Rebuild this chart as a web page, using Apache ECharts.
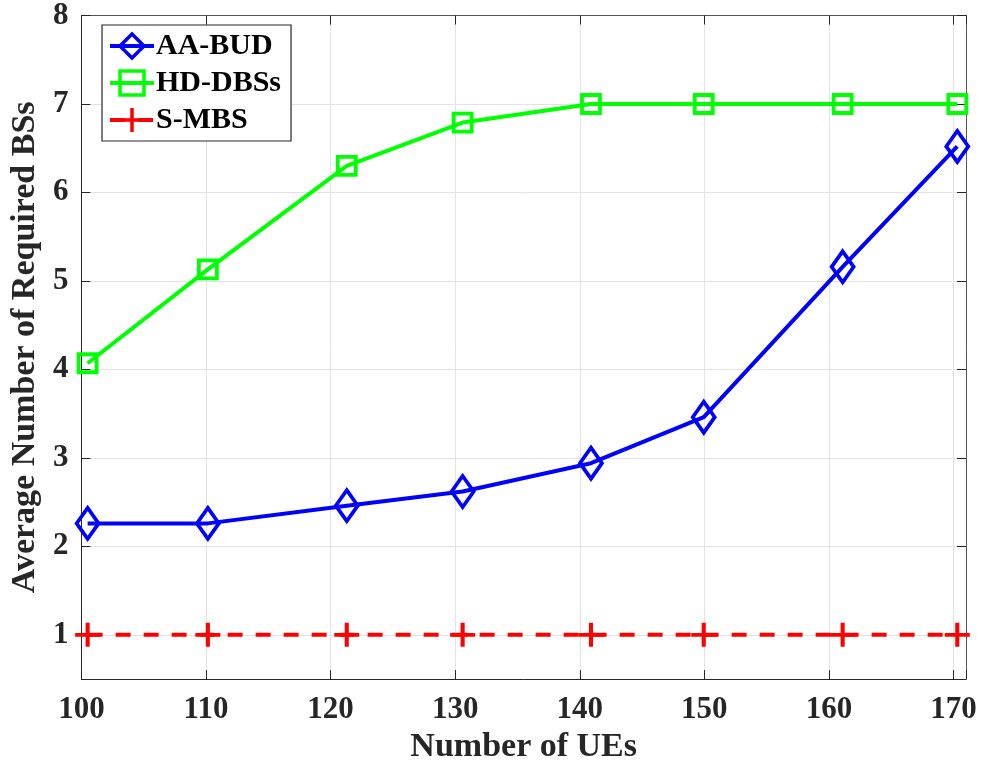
<!DOCTYPE html>
<html>
<head>
<meta charset="utf-8">
<script src="https://cdn.jsdelivr.net/npm/echarts@6/dist/echarts.min.js"></script>
<style>
html,body{margin:0;padding:0;background:#fff;}
#chart{width:982px;height:769px;}
</style>
</head>
<body>
<div id="chart"></div>
<script>
// ---- data ----
const ues = [100.5, 110.15, 121.3, 130.6, 140.9, 149.95, 161.1, 170.3];
const aaBud = [2.26, 2.26, 2.46, 2.62, 2.94, 3.46, 5.16, 6.52];
const hdDbss = [4.07, 5.13, 6.30, 6.79, 7.0, 7.0, 7.0, 7.0];
const sMbs = [1, 1, 1, 1, 1, 1, 1, 1];
const seriesNames = ['AA-BUD', 'HD-DBSs', 'S-MBS'];
const xTitle = 'Number of UEs';
const yTitle = 'Average Number of Required BSs';

const FONT = "'Liberation Serif', 'Times New Roman', serif";
const AXIS = '#262626';
const GRID = '#e3e3e3';

const pairs = (ys) => ues.map((x, i) => [x, ys[i]]);

const mainX = {
  type: 'value', min: 100, max: 171, interval: 10,
  axisLine: { show: true, onZero: false, lineStyle: { color: AXIS, width: 1 } },
  axisTick: { show: true, inside: true, length: 9, lineStyle: { color: AXIS } },
  axisLabel: {
    margin: 15, color: AXIS, fontFamily: FONT, fontWeight: 'bold', fontSize: 31,
    formatter: v => (Math.abs(v % 10) < 1e-9 ? String(v) : '')
  },
  splitLine: { show: true, lineStyle: { color: GRID, width: 1 } },
  name: xTitle, nameLocation: 'middle', nameGap: 37,
  nameTextStyle: { color: AXIS, fontFamily: FONT, fontWeight: 'bold', fontSize: 34 }
};
const topX = {
  type: 'value', min: 100, max: 171, interval: 10, position: 'top',
  axisLine: { show: true, onZero: false, lineStyle: { color: '#555', width: 1 } },
  axisTick: { show: true, inside: true, length: 9, lineStyle: { color: AXIS } },
  axisLabel: { show: false }, splitLine: { show: false }
};
const mainY = {
  type: 'value', min: 0.5, max: 8, splitNumber: 8,
  axisLine: { show: true, onZero: false, lineStyle: { color: AXIS, width: 1 } },
  axisTick: { show: true, inside: true, length: 9, lineStyle: { color: AXIS } },
  axisLabel: {
    margin: 13, color: AXIS, fontFamily: FONT, fontWeight: 'bold', fontSize: 31,
    formatter: v => (Number.isInteger(v) ? String(v) : '')
  },
  splitLine: { show: true, lineStyle: { color: GRID, width: 1 } },
  name: yTitle, nameLocation: 'middle', nameGap: 31,
  nameTextStyle: { color: AXIS, fontFamily: FONT, fontWeight: 'bold', fontSize: 34 }
};
const rightY = {
  type: 'value', min: 0.5, max: 8, splitNumber: 8, position: 'right',
  axisLine: { show: true, onZero: false, lineStyle: { color: '#555', width: 1 } },
  axisTick: { show: true, inside: true, length: 9, lineStyle: { color: AXIS } },
  axisLabel: { show: false }, splitLine: { show: false }
};

const crossPath = 'path://M5,0L5,10M0,5L10,5';

const chart = echarts.init(document.getElementById('chart'), null, { renderer: 'canvas' });
chart.setOption({
  animation: false,
  backgroundColor: '#fff',
  grid: { left: 78, right: 16, top: 15, bottom: 85, containLabel: false },
  xAxis: [mainX, topX],
  yAxis: [mainY, rightY],
  legend: {
    orient: 'vertical', left: 102, top: 25,
    data: seriesNames,
    backgroundColor: '#fff',
    borderColor: AXIS, borderWidth: 1.2,
    padding: [6, 10, 6, 6],
    itemWidth: 44, itemHeight: 30, itemGap: 7,
    lineStyle: { width: 4 },
    itemStyle: { borderWidth: 3.5 },
    textStyle: { color: '#000', fontFamily: FONT, fontWeight: 'bold', fontSize: 30, padding: [0, 0, 0, -3] }
  },
  series: [
    {
      name: seriesNames[2], type: 'line', data: pairs(sMbs), z: 3,
      symbol: crossPath, symbolSize: [25, 24], showAllSymbol: true,
      color: '#ff0000',
      lineStyle: { color: '#ff0000', width: 4, type: [15, 13] },
      itemStyle: { color: 'rgba(0,0,0,0)', borderColor: '#ff0000', borderWidth: 4 }
    },
    {
      name: seriesNames[1], type: 'line', data: pairs(hdDbss), z: 4,
      symbol: 'rect', symbolSize: [18, 18], showAllSymbol: true,
      color: '#00ff00',
      lineStyle: { color: '#00ff00', width: 4 },
      itemStyle: { color: 'rgba(0,0,0,0)', borderColor: '#00ff00', borderWidth: 3.8 }
    },
    {
      name: seriesNames[0], type: 'line', data: pairs(aaBud), z: 5,
      symbol: 'diamond', symbolSize: [22, 31], showAllSymbol: true,
      color: '#0000ff',
      lineStyle: { color: '#0000ff', width: 4 },
      itemStyle: { color: 'rgba(0,0,0,0)', borderColor: '#0000ff', borderWidth: 3.8 }
    }
  ]
});
</script>
</body>
</html>
